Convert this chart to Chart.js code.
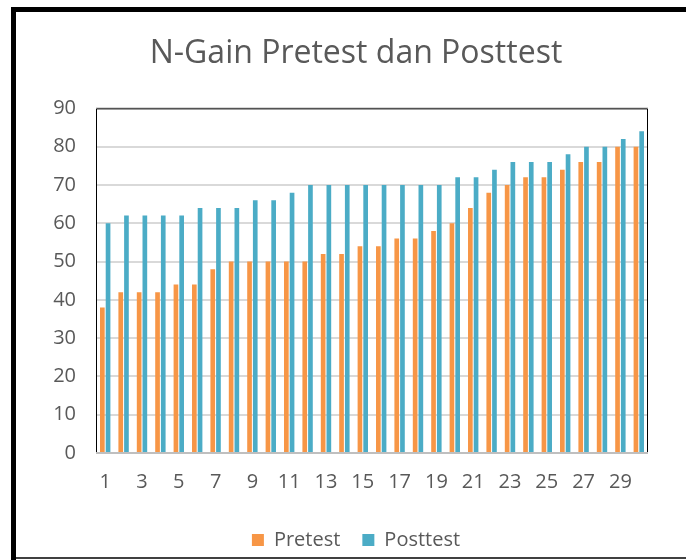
<!DOCTYPE html>
<html>
<head>
<meta charset="utf-8">
<script src="https://cdn.jsdelivr.net/npm/chart.js@4/dist/chart.umd.min.js"></script>
<style>
    body { margin: 0; background: #ffffff; }
    #wrap { position: relative; width: 686px; height: 560px; }
</style>
</head>
<body>
<div id="wrap">
    <canvas id="barChart" width="686" height="560"></canvas>
</div>
<script>
// Global vars:

const students = ['1', '2', '3', '4', '5', '6', '7', '8', '9', '10',
    '11', '12', '13', '14', '15', '16', '17', '18', '19', '20',
    '21', '22', '23', '24', '25', '26', '27', '28', '29', '30'];

const pretest = [38, 42, 42, 42, 44, 44, 48, 50, 50, 50,
    50, 50, 52, 52, 54, 54, 56, 56, 58, 60,
    64, 68, 70, 72, 72, 74, 76, 76, 80, 80];

const posttest = [60, 62, 62, 62, 62, 64, 64, 64, 66, 66,
    68, 70, 70, 70, 70, 70, 70, 70, 70, 72,
    72, 74, 76, 76, 76, 78, 80, 80, 82, 84];

const yTicks = [0, 10, 20, 30, 40, 50, 60, 70, 80, 90];

const textColor = '#595959';

// draws the outer frame and the box round the plot area
const framePlugin = {
    id: 'frame',
    afterDraw(chart) {
        const ctx = chart.ctx;
        const a = chart.chartArea;
        ctx.save();
        // outer frame
        ctx.fillStyle = '#000000';
        ctx.fillRect(11, 7, 5, 553);
        ctx.fillRect(11, 7, 675, 5);
        ctx.fillStyle = '#404040';
        ctx.fillRect(16, 557, 670, 2);
        // plot box
        ctx.strokeStyle = '#000000';
        ctx.lineWidth = 1;
        ctx.beginPath();
        ctx.moveTo(a.left + 0.5, a.bottom);
        ctx.lineTo(a.left + 0.5, a.top + 0.5);
        ctx.lineTo(a.right - 0.5, a.top + 0.5);
        ctx.lineTo(a.right - 0.5, a.bottom);
        ctx.stroke();
        ctx.strokeStyle = '#bfbfbf';
        ctx.lineWidth = 2;
        ctx.beginPath();
        ctx.moveTo(a.left, a.bottom);
        ctx.lineTo(a.right, a.bottom);
        ctx.stroke();
        ctx.restore();
    }
};

const scoreChart = document.getElementById("barChart");
let scoreBarChart = new Chart(scoreChart, {
    type: 'bar',
    data: {
        labels: students,
        datasets: [{
            label: 'Pretest',
            data: pretest,
            backgroundColor: '#F79646',
            categoryPercentage: 0.62,
            barPercentage: 0.82
        }, {
            label: 'Posttest',
            data: posttest,
            backgroundColor: '#4BACC6',
            categoryPercentage: 0.62,
            barPercentage: 0.82
        }]
    },
    options: {
        responsive: false,
        animation: false,
        layout: {
            padding: { left: 26, right: 0, top: 0, bottom: 0 }
        },
        scales: {
            x: {
                grid: { display: false },
                border: { display: false },
                ticks: {
                    autoSkip: false,
                    maxRotation: 0,
                    padding: 9,
                    color: textColor,
                    font: { family: 'Open Sans', size: 20 },
                    callback: function (value, index) {
                        return index % 2 === 0 ? students[index] : '';
                    }
                },
                afterFit: function (scale) { scale.height = 55; }
            },
            y: {
                min: yTicks[0],
                max: yTicks[yTicks.length - 1],
                grid: { color: '#d9d9d9', lineWidth: 2, drawTicks: false },
                border: { display: false },
                ticks: {
                    stepSize: 10,
                    padding: 20,
                    color: textColor,
                    font: { family: 'Open Sans', size: 20 }
                },
                afterFit: function (scale) { scale.width = 70; }
            },
            // empty space on the right of the plot box
            spacer: {
                type: 'linear',
                position: 'right',
                grid: { display: false },
                border: { display: false },
                ticks: { display: false },
                afterFit: function (scale) { scale.width = 38; }
            }
        },
        plugins: {
            title: {
                display: true,
                text: 'N-Gain Pretest dan Posttest',
                color: textColor,
                font: { family: 'Open Sans', size: 32, weight: 'normal' },
                padding: { top: 35, bottom: 35 }
            },
            legend: {
                position: 'bottom',
                maxHeight: 53,
                labels: {
                    boxWidth: 12,
                    boxHeight: 12,
                    padding: 22,
                    color: textColor,
                    font: { family: 'Open Sans', size: 20 }
                }
            },
            tooltip: { enabled: false }
        }
    },
    plugins: [framePlugin]
});
</script>
</body>
</html>
